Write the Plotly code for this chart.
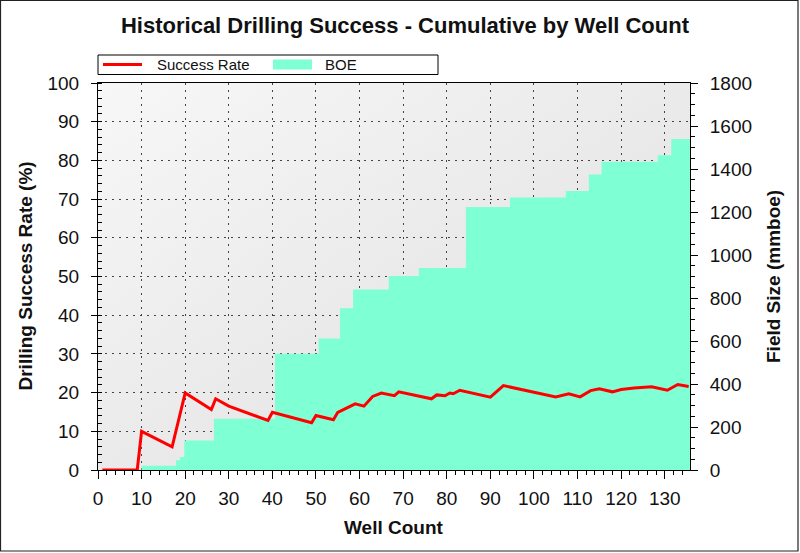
import base64
import plotly.graph_objects as go

# ---- data ----
well_rate = [1, 9, 10, 17, 20, 26, 27, 30, 39, 40, 49, 50, 54, 55, 59, 61, 63, 65, 68, 69,
             76.5, 77.7, 79.6, 80.7, 81.5, 83, 90, 93, 105, 108, 110.6, 113, 115, 118, 120,
             123, 127, 130.6, 133, 135.5]
success_rate = [0, 0, 10.0, 6.0, 19.9, 15.6, 18.4, 16.5, 12.8, 14.9, 12.2, 14.1, 13.0, 14.9,
                17.1, 16.5, 19.0, 19.9, 19.2, 20.2, 18.4, 19.4, 19.2, 19.9, 19.7, 20.6, 18.8,
                21.8, 18.9, 19.7, 18.9, 20.5, 21.0, 20.2, 20.8, 21.2, 21.5, 20.6, 22.1, 21.6]

well_boe = [0, 10, 17.9, 18.8, 19.8, 26.6, 40.6, 50.6, 55.5, 58.5, 66.7, 73.6, 84.4, 94.5,
            107.3, 112.6, 115.5, 128.4, 131.5, 135.8]
boe = [0, 20, 45, 61, 137, 238, 541, 612, 752, 839, 902, 939, 1223, 1267, 1298, 1374, 1434,
       1464, 1539, 1539]

x_range = [0, 135.8]
rate_range = [0, 100]
boe_range = [0, 1800]

W, H = 800, 553
L, R, T, B = 98, 110, 83, 83
PW, PH = W - L - R, H - T - B

FONT = "Liberation Sans, Arial, sans-serif"
RED = "#ff0000"
AQUA = "#7fffd4"


def px_x(p):
    return (p - L) / PW


def px_y(p):
    return (H - B - p) / PH


fig = go.Figure()
fig.add_trace(go.Scatter(
    x=well_boe, y=boe, name="BOE", mode="lines", line=dict(shape="hv", width=0, color=AQUA),
    fill="tozeroy", fillcolor=AQUA, yaxis="y", xaxis="x", showlegend=False,
))
fig.add_trace(go.Scatter(
    x=well_rate, y=success_rate, name="Success Rate", mode="lines",
    line=dict(color=RED, width=3), yaxis="y2", xaxis="x", showlegend=False,
))

tickfont = dict(family=FONT, size=19, color="#111111")
common = dict(showline=True, linecolor="black", linewidth=1, tickcolor="black", tickwidth=1,
              zeroline=False, tickfont=tickfont)

fig.update_layout(
    width=W, height=H,
    margin=dict(l=L, r=R, t=T, b=B),
    paper_bgcolor="white",
    plot_bgcolor="#ebebeb",
    showlegend=False,
    xaxis=dict(range=x_range, dtick=10, tick0=0, ticks="outside", ticklen=8,
               minor=dict(dtick=2, ticks="outside", ticklen=4, tickcolor="black"),
               showgrid=True, gridcolor="#444444", griddash="2px,5px", gridwidth=1,
               mirror=True, ticklabelstandoff=3, **common),
    yaxis=dict(range=boe_range, dtick=200, tick0=0, side="right", ticks="outside", ticklen=7,
               minor=dict(dtick=50, ticks="outside", ticklen=4, tickcolor="black"),
               showgrid=False, ticklabelstandoff=8, **common),
    yaxis2=dict(range=rate_range, dtick=10, tick0=0, side="left", overlaying="y",
                ticks="outside", ticklen=6,
                minor=dict(dtick=2, ticks="inside", ticklen=4, tickcolor="black"),
                showgrid=True, gridcolor="#444444", griddash="2px,5px", gridwidth=1,
                ticklabelstandoff=8, **common),
    xaxis2=dict(range=x_range, dtick=10, tick0=0, overlaying="x", side="bottom",
                ticks="inside", ticklen=5, tickcolor="black", showticklabels=False,
                showgrid=False, zeroline=False, showline=False),
    yaxis3=dict(range=rate_range, dtick=10, tick0=0, overlaying="y", side="left",
                ticks="inside", ticklen=4, tickcolor="black", showticklabels=False,
                showgrid=False, zeroline=False, showline=False),
    yaxis4=dict(range=boe_range, dtick=200, tick0=0, overlaying="y", side="right",
                ticks="inside", ticklen=6, tickcolor="black", showticklabels=False,
                showgrid=False, zeroline=False, showline=False),
    title=dict(text="<b>Historical Drilling Success - Cumulative by Well Count</b>",
               x=405 / W, xref="container", xanchor="center",
               y=1 - 25 / H, yref="container", yanchor="middle",
               font=dict(family=FONT, size=22, color="#111111")),
)

# plot-area background gradient (light top-left to darker bottom-right)
svg = ('<svg xmlns="http://www.w3.org/2000/svg" width="100" height="100" '
       'preserveAspectRatio="none"><defs><linearGradient id="g" x1="0" y1="0" x2="1" y2="1">'
       '<stop offset="0" stop-color="#f7f7f7"/><stop offset="1" stop-color="#dedede"/>'
       '</linearGradient></defs><rect width="100" height="100" fill="url(#g)"/></svg>')
fig.add_layout_image(source="data:image/svg+xml;base64," + base64.b64encode(svg.encode()).decode(),
                     xref="paper", yref="paper", x=0, y=1, sizex=1, sizey=1,
                     xanchor="left", yanchor="top", sizing="stretch", layer="below")

annot_font = dict(family=FONT, size=19, color="#111111")
fig.add_annotation(text="<b>Well Count</b>", xref="paper", yref="paper",
                   x=0.5, y=px_y(527), xanchor="center", yanchor="middle",
                   showarrow=False, font=annot_font)
fig.add_annotation(text="<b>Drilling Success Rate (%)</b>", xref="paper", yref="paper",
                   x=px_x(25), y=0.5, xanchor="center", yanchor="middle", textangle=-90,
                   showarrow=False, font=annot_font)
fig.add_annotation(text="<b>Field Size (mmboe)</b>", xref="paper", yref="paper",
                   x=px_x(773.5), y=0.5, xanchor="center", yanchor="middle", textangle=-90,
                   showarrow=False, font=annot_font)

# legend (drawn as a compact boxed key)
leg_font = dict(family=FONT, size=15, color="#111111")
fig.add_shape(type="rect", xref="paper", yref="paper", x0=px_x(98), x1=px_x(438),
              y0=px_y(74.5), y1=px_y(55), line=dict(color="black", width=1), fillcolor="white")
fig.add_shape(type="line", xref="paper", yref="paper", x0=px_x(103), x1=px_x(142),
              y0=px_y(64.5), y1=px_y(64.5), line=dict(color=RED, width=3))
fig.add_annotation(text="Success Rate", xref="paper", yref="paper", x=px_x(155), y=px_y(64.5),
                   xanchor="left", yanchor="middle", showarrow=False, font=leg_font)
fig.add_shape(type="rect", xref="paper", yref="paper", x0=px_x(273), x1=px_x(312),
              y0=px_y(69.5), y1=px_y(59.5), line=dict(width=0), fillcolor=AQUA)
fig.add_annotation(text="BOE", xref="paper", yref="paper", x=px_x(323), y=px_y(64.5),
                   xanchor="left", yanchor="middle", showarrow=False, font=leg_font)

# outer border of the whole picture
fig.add_shape(type="rect", xref="paper", yref="paper",
              x0=px_x(0.5), x1=px_x(798), y0=px_y(551), y1=px_y(0.5),
              line=dict(color="#222222", width=1.2), fillcolor="rgba(0,0,0,0)", layer="above")

fig.write_html("out.html", config={"displayModeBar": False},
               post_script="document.body.style.margin='0';document.body.style.overflow='hidden';")
